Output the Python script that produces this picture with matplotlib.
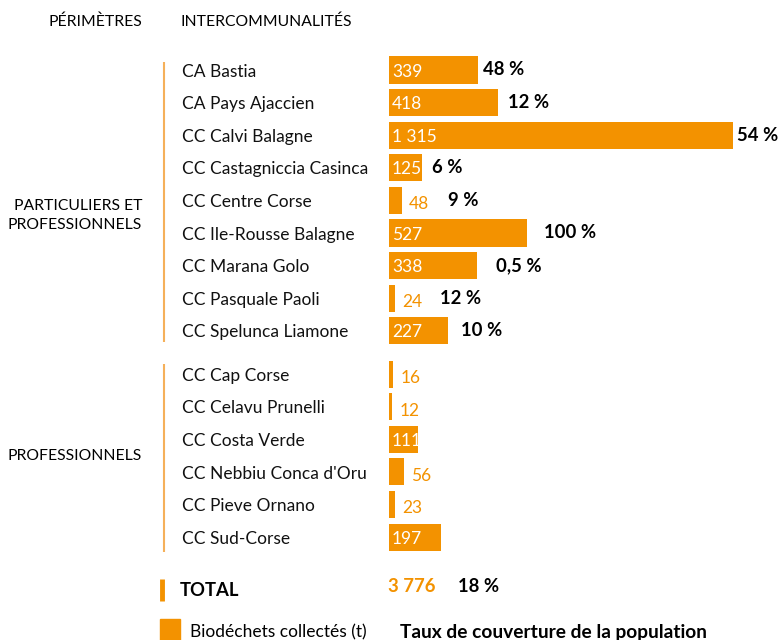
import numpy as np
import matplotlib
matplotlib.use('Agg')
import matplotlib.pyplot as plt

# Donnees
noms_g1 = ['CA Bastia', 'CA Pays Ajaccien', 'CC Calvi Balagne', 'CC Castagniccia Casinca',
           'CC Centre Corse', 'CC Ile-Rousse Balagne', 'CC Marana Golo', 'CC Pasquale Paoli',
           'CC Spelunca Liamone']
tonnes_g1 = [339, 418, 1315, 125, 48, 527, 338, 24, 227]
taux_g1 = ['48 %', '12 %', '54 %', '6 %', '9 %', '100 %', '0,5 %', '12 %', '10 %']

noms_g2 = ['CC Cap Corse', 'CC Celavu Prunelli', 'CC Costa Verde', 'CC Nebbiu Conca d\'Oru',
           'CC Pieve Ornano', 'CC Sud-Corse']
tonnes_g2 = [16, 12, 111, 56, 23, 197]

total_tonnes = '3 776'
total_taux = '18 %'

# Style
orange = '#F39200'
orange_clair = '#F5B05A'
plt.rcParams['font.family'] = ['Lato', 'DejaVu Sans']
fs = 12.5      # texte courant
fs_maj = 11.3  # texte en majuscules
fs_b = 13.3    # pourcentages en gras

W, H = 779, 640
px_row = 32.6          # hauteur d'une ligne en pixels
y0 = 70                # centre de la premiere barre (px)
px_t = 344 / 1315      # pixels par tonne
x0 = 389               # debut des barres (px)

fig = plt.figure(figsize=(W / 100, H / 100), dpi=100)
ax = fig.add_axes([0, 0, 1, 1])
ax.set_xlim(-x0 / px_t, (W - x0) / px_t)
ax.set_ylim((H - y0) / px_row, -y0 / px_row)
ax.axis('off')

def fx(px):
    return px / W

tr = ax.get_yaxis_transform()   # x en fraction de figure, y en lignes

pos1 = np.arange(len(noms_g1))
pos2 = np.arange(len(noms_g2)) + len(noms_g1) + 0.33
pos_total = pos2[-1] + 1.57
pos_leg = pos_total + 1.3

# ecart (px) entre fin de barre et pourcentage, comme sur l'original
pct_gap = [5, 10, 4, 10, 46, 17, 19, 45, 13]

def fmt(t):
    return '{:,}'.format(t).replace(',', ' ')

for pos, noms, tonnes in [(pos1, noms_g1, tonnes_g1), (pos2, noms_g2, tonnes_g2)]:
    ax.barh(pos, tonnes, height=0.83, color=orange, left=0)
    for p, n, t in zip(pos, noms, tonnes):
        ax.text(fx(182), p + 0.05, n, transform=tr, fontsize=fs, va='center', ha='left', color='#111111')
        if t >= 100:
            ax.annotate(fmt(t), (0, p + 0.05), xytext=(3, 0), textcoords='offset pixels',
                        color='white', fontsize=fs, va='center')
        else:
            ax.annotate(fmt(t), (t, p + 0.12), xytext=(7, 0), textcoords='offset pixels',
                        color=orange, fontsize=fs, va='center')

for p, t, lab, g in zip(pos1, tonnes_g1, taux_g1, pct_gap):
    ax.annotate(lab, (t, p), xytext=(g, 0), textcoords='offset pixels',
                fontsize=fs_b, fontweight='bold', va='center', color='black')

# traits de groupe
ax.plot([fx(164), fx(164)], [pos1[0] - 0.25, pos1[-1] + 0.35], transform=tr,
        color=orange_clair, lw=1.5, solid_capstyle='butt')
ax.plot([fx(164), fx(164)], [pos2[0] - 0.3, pos2[-1] + 0.45], transform=tr,
        color=orange_clair, lw=1.5, solid_capstyle='butt')

# en-tetes et groupes
ax.text(fx(142), -1.47, 'PÉRIMÈTRES', transform=tr, fontsize=fs_maj, ha='right', va='center')
ax.text(fx(180), -1.47, 'INTERCOMMUNALITÉS', transform=tr, fontsize=fs_maj, ha='left', va='center')
ax.text(fx(142), pos1[4] + 0.45, 'PARTICULIERS ET\nPROFESSIONNELS', transform=tr, fontsize=fs_maj,
        ha='right', va='center', multialignment='right', linespacing=1.45)
ax.text(fx(142), pos2[2] + 0.5, 'PROFESSIONNELS', transform=tr, fontsize=fs_maj, ha='right', va='center')

# total
ax.plot([fx(162), fx(162)], [pos_total - 0.3, pos_total + 0.4], transform=tr,
        color=orange, lw=3.5, solid_capstyle='butt')
ax.text(fx(180), pos_total + 0.07, 'TOTAL', transform=tr, fontsize=fs_b, fontweight='bold', va='center')
ax.text(fx(388), pos_total - 0.05, total_tonnes, transform=tr, fontsize=fs_b, fontweight='bold',
        va='center', color=orange)
ax.text(fx(458), pos_total - 0.05, total_taux, transform=tr, fontsize=fs_b, fontweight='bold', va='center')

# legende
ax.add_patch(plt.Rectangle((fx(160), pos_leg - 0.35), fx(20), 0.75, transform=tr, color=orange))
ax.text(fx(190), pos_leg + 0.05, 'Biodéchets collectés (t)', transform=tr, fontsize=fs, va='center')
ax.text(fx(400), pos_leg + 0.05, 'Taux de couverture de la population', transform=tr, fontsize=fs_b + 0.5,
        fontweight='bold', va='center')

fig.savefig('out.png', dpi=100)
